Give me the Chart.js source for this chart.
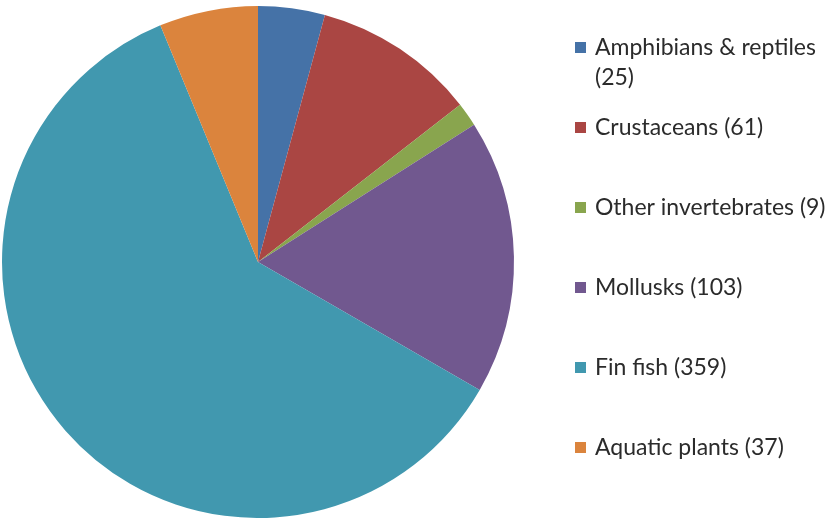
<!DOCTYPE html>
<html>
<head>
<meta charset="utf-8">
<script src="https://cdn.jsdelivr.net/npm/chart.js@4/dist/chart.umd.min.js"></script>
<style>
  html, body { margin: 0; padding: 0; background: #fff; }
  #wrap { width: 834px; height: 518px; }
</style>
</head>
<body>
<div id="wrap"><canvas id="pieChart" width="834" height="518"></canvas></div>
<script>
  // chart data
  var categories = ['Amphibians & reptiles', 'Crustaceans', 'Other invertebrates', 'Mollusks', 'Fin fish', 'Aquatic plants'];
  var counts = [25, 61, 9, 103, 359, 37];
  var sliceColors = ['#4572A7', '#AA4643', '#89A54E', '#71588F', '#4198AF', '#DB843D'];

  var legendLabels = categories.map(function(c, i) {
      return c + ' (' + counts[i] + ')';
  });

  // legend drawn on the canvas, to the right of the pie
  var sideLegend = {
    id: 'sideLegend',
    afterDraw: function(chart) {
      var ctx = chart.ctx;
      var x = 575, y = 47, step = 80, lineH = 30, maxW = 238;
      ctx.save();
      ctx.font = '23px Lato, "Open Sans", sans-serif';
      ctx.textBaseline = 'middle';
      chart.data.labels.forEach(function(label, i) {
        var cy = y + i * step;
        ctx.fillStyle = chart.data.datasets[0].backgroundColor[i];
        ctx.fillRect(x, cy - 5, 11, 11);
        ctx.fillStyle = '#2b2b2b';
        // simple word wrap
        var words = label.split(' ');
        var line = '', lines = [];
        words.forEach(function(w) {
          var test = line ? line + ' ' + w : w;
          if (ctx.measureText(test).width > maxW && line) {
            lines.push(line);
            line = w;
          } else {
            line = test;
          }
        });
        lines.push(line);
        lines.forEach(function(l, j) {
          ctx.fillText(l, x + 20, cy + 1 + j * lineH);
        });
      });
      ctx.restore();
    }
  };

  var ctx = document.getElementById('pieChart').getContext('2d');
  var myPieChart = new Chart(ctx, {
    type: 'pie',
    data: {
      labels: legendLabels,
      datasets: [{
        data: counts,
        backgroundColor: sliceColors,
        borderWidth: 0
      }]
    },
    options: {
      responsive: false,
      animation: false,
      layout: { padding: { left: 2, top: 6, right: 320, bottom: 0 } },
      plugins: {
        legend: { display: false },
        tooltip: { enabled: false }
      }
    },
    plugins: [sideLegend]
  });
</script>
</body>
</html>
